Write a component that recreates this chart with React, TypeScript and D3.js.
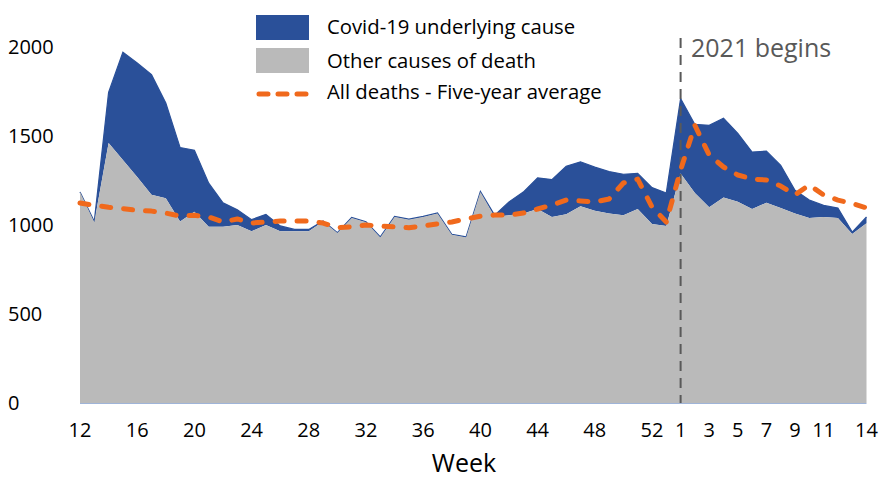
import React from 'react';
import * as d3 from 'd3';

// week labels: 2020 wk 12-53, then 2021 wk 1-14
const weeks = [
  12, 13, 14, 15, 16, 17, 18, 19, 20, 21, 22, 23, 24, 25, 26, 27, 28, 29, 30, 31, 32,
  33, 34, 35, 36, 37, 38, 39, 40, 41, 42, 43, 44, 45, 46, 47, 48, 49, 50, 51, 52, 53,
  1, 2, 3, 4, 5, 6, 7, 8, 9, 10, 11, 12, 13, 14,
];

const otherCauses = [
  1185, 1015, 1460, 1365, 1270, 1170, 1150, 1020, 1075, 990, 990, 1000, 965, 1000, 965, 965, 965, 1020, 955, 1040, 1015,
  930, 1045, 1030, 1045, 1065, 945, 930, 1185, 1045, 1055, 1065, 1090, 1045, 1060, 1105, 1080, 1065, 1055, 1090, 1005, 995,
  1290, 1180, 1100, 1155, 1130, 1090, 1125, 1095, 1065, 1040, 1045, 1040, 950, 1010,
];

const covid = [
  0, 5, 285, 605, 640, 675, 535, 415, 345, 245, 135, 85, 65, 60, 30, 10, 10, 3, 2, 2, 3,
  3, 3, 3, 3, 3, 3, 3, 3, 10, 75, 120, 175, 210, 270, 250, 245, 235, 230, 200, 205, 185,
  420, 385, 460, 445, 385, 320, 290, 240, 130, 100, 65, 55, 10, 35,
];

const fiveYearAvg = [
  1124, 1110, 1100, 1092, 1082, 1078, 1067, 1050, 1055, 1045, 1017, 1034, 1011, 1017, 1022, 1022, 1022, 1011, 985, 990, 1000,
  994, 989, 985, 995, 1006, 1017, 1034, 1050, 1056, 1056, 1067, 1090, 1112, 1140, 1135, 1129, 1146, 1236, 1258, 1101, 1017,
  1309, 1560, 1393, 1326, 1281, 1258, 1253, 1219, 1169, 1225, 1169, 1140, 1121, 1096,
];

const xTickIdx = [0, 4, 8, 12, 16, 20, 24, 28, 32, 36, 40, 42, 44, 46, 48, 50, 52, 55];
const yTicks = [0, 500, 1000, 1500, 2000];
const yearStartIdx = 42;

const BLUE = '#2a5099';
const GREY = '#bababa';
const ORANGE = '#f0691c';
const FONT = '"Open Sans", "Noto Sans", sans-serif';

export default function App() {
  const W = 880;
  const H = 481;

  const x = d3.scaleLinear().domain([0, weeks.length - 1]).range([80, 866.5]);
  const y = d3.scaleLinear().domain([0, 2000]).range([403, 47]);

  const idx = weeks.map((_, i) => i);

  const greyArea = d3.area<number>()
    .x(i => x(i))
    .y0(y(0))
    .y1(i => y(otherCauses[i]))(idx);

  const blueArea = d3.area<number>()
    .x(i => x(i))
    .y0(i => y(otherCauses[i]))
    .y1(i => y(otherCauses[i] + covid[i]))(idx);

  const totalLine = d3.line<number>()
    .x(i => x(i))
    .y(i => y(otherCauses[i] + covid[i]))(idx);

  const avgLine = d3.line<number>()
    .x(i => x(i))
    .y(i => y(fiveYearAvg[i]))(idx);

  return (
    <svg width={W} height={H} style={{ position: 'absolute', left: 0, top: 0, background: '#fff' }}>
      <path d={blueArea || ''} fill={BLUE} />
      <path d={totalLine || ''} fill="none" stroke={BLUE} strokeWidth={1.2} />
      <path d={greyArea || ''} fill={GREY} />
      <line x1={x(0)} x2={x(weeks.length - 1)} y1={y(0) + 0.5} y2={y(0) + 0.5} stroke="#9fb4d8" strokeWidth={1} />

      <line x1={x(yearStartIdx)} x2={x(yearStartIdx)} y1={38} y2={y(0)}
        stroke="#595959" strokeWidth={2} strokeDasharray="10,7" />
      <text x={691} y={57} fontFamily={FONT} fontSize={25} fill="#595959">2021 begins</text>

      <path d={avgLine || ''} fill="none" stroke={ORANGE} strokeWidth={5}
        strokeDasharray="9,13" strokeLinecap="round" strokeLinejoin="round" />

      {yTicks.map(t => (
        <text key={t} x={8} y={y(t)} dy="0.35em" fontFamily={FONT} fontSize={20} fill="#000">{t}</text>
      ))}

      {xTickIdx.map(i => (
        <text key={i} x={x(i)} y={437} textAnchor="middle" fontFamily={FONT} fontSize={20} fill="#000">{weeks[i]}</text>
      ))}
      <text x={464} y={472} textAnchor="middle" fontFamily={FONT} fontSize={25} fill="#000">Week</text>

      {/* legend */}
      <rect x={256} y={15} width={53} height={25} fill={BLUE} />
      <rect x={256} y={48} width={53} height={25} fill={GREY} />
      <line x1={259} x2={306} y1={94} y2={94} stroke={ORANGE} strokeWidth={5}
        strokeDasharray="9,10" strokeLinecap="round" />
      <text x={327} y={34} fontFamily={FONT} fontSize={20.3} fill="#000">Covid-19 underlying cause</text>
      <text x={327} y={68} fontFamily={FONT} fontSize={20.3} fill="#000">Other causes of death</text>
      <text x={327} y={99} fontFamily={FONT} fontSize={20.3} fill="#000">All deaths - Five-year average</text>
    </svg>
  );
}
